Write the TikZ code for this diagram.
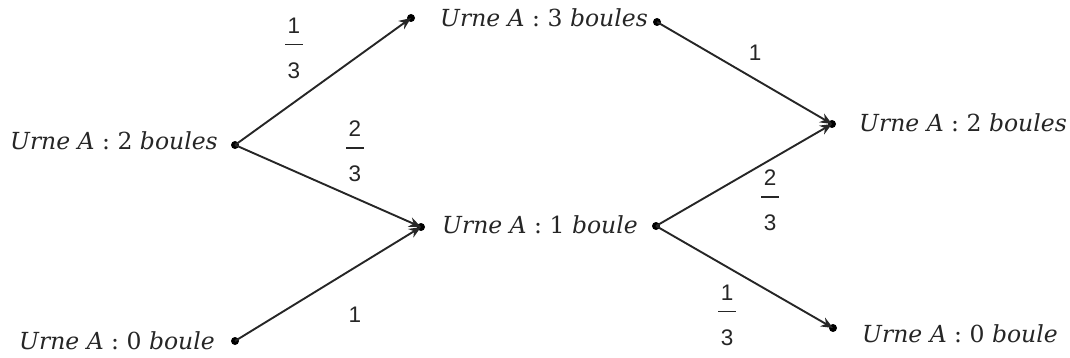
\documentclass[tikz,border=0pt]{standalone}
\usepackage{fontspec}
\setmainfont{DejaVu Serif}
\newfontfamily\probfont{Liberation Sans}
\usetikzlibrary{arrows.meta}

% state label: "Urne A : n boule(s)"
\newcommand\urne[2]{{\itshape Urne A} : #1 {\itshape #2}}
% stacked probability: numerator, bar, denominator (bar centre 27pt below top)
\newcommand\probfrac[2]{\vbox{%
  \hbox to 18pt{\hss#1\hss}\kern10.4pt
  \hrule height 1.3pt width 18pt\kern17.4pt
  \hbox to 18pt{\hss#2\hss}}}

\begin{document}
\begin{tikzpicture}[x=1pt,y=-1pt,
  state/.style={font=\fontsize{23.5}{23.5}\selectfont, inner sep=0pt, text=black!85},
  dot/.style={circle, fill=black, inner sep=0pt, minimum size=8pt},
  branch/.style={line width=1.9pt, draw=black!85},
  arr/.style={branch, -{Stealth[length=12pt,width=10pt]}},
  prob/.style={font=\fontsize{22.5}{22.5}\selectfont\probfont, inner sep=0pt, text=black!85},
  fracbox/.style={prob, anchor=north}]
\useasboundingbox (0,0) rectangle (1070,358);

% branch points
\node[dot] (a2)  at (235,145) {};
\node[dot] (a0)  at (235,341) {};
\node[dot] (b3l) at (411,18) {};
\node[dot] (b3r) at (657,22) {};
\node[dot] (b1l) at (421,227) {};
\node[dot] (b1r) at (656,226) {};
\node[dot] (c2)  at (832,124) {};
\node[dot] (c0)  at (833,328) {};

% states
\node[state, anchor=base east] (ta2) at (218,150) {\urne{2}{boules}};
\node[state, anchor=base east] (ta0) at (215,349) {\urne{0}{boule}};
\node[state, anchor=base west] (tb3) at (440,27) {\urne{3}{boules}};
\node[state, anchor=base west] (tb1) at (442,233) {\urne{1}{boule}};
\node[state, anchor=base west] (tc2) at (859,132) {\urne{2}{boules}};
\node[state, anchor=base west] (tc0) at (862,342) {\urne{0}{boule}};

% transitions
\draw[arr] (a2.center) -- (b3l.center);
\draw[arr] (a2.center) -- (b1l.center);
\draw[arr] (a0.center) -- (b1l.center);
\draw[arr] (b3r.center) -- (c2.center);
\draw[arr] (b1r.center) -- (c2.center);
\draw[arr] (b1r.center) -- (c0.center);

% probabilities
\node[fracbox] (p1) at (294,18) {\probfrac{1}{3}};
\node[fracbox] (p2) at (355,121) {\probfrac{2}{3}};
\node[prob] (p3) at (355,315) {1};
\node[prob] (p4) at (755,53) {1};
\node[fracbox] (p5) at (770,170) {\probfrac{2}{3}};
\node[fracbox] (p6) at (727,285) {\probfrac{1}{3}};
\end{tikzpicture}
\end{document}
